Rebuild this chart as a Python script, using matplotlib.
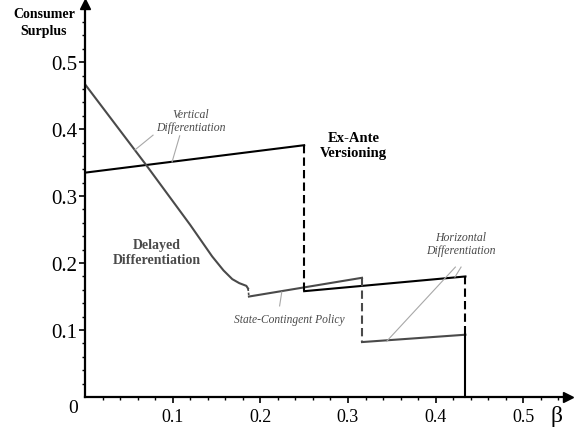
import matplotlib.pyplot as plt

plt.rcParams['font.family'] = ['Liberation Serif', 'DejaVu Serif']

# Ex-ante versioning (black)
beta_exante_1 = [0.0, 0.25]
cs_exante_1 = [0.335, 0.376]
beta_exante_2 = [0.25, 0.434]
cs_exante_2 = [0.158, 0.180]

# Delayed differentiation (gray curve)
beta_delayed = [0.0, 0.07, 0.12, 0.145, 0.158, 0.168, 0.176, 0.184, 0.186]
cs_delayed = [0.467, 0.346, 0.257, 0.210, 0.189, 0.176, 0.170, 0.166, 0.162]

# State-contingent policy
beta_contingent = [0.187, 0.316]
cs_contingent = [0.150, 0.178]

# Horizontal differentiation
beta_horizontal = [0.316, 0.434]
cs_horizontal = [0.082, 0.093]

x_ticks = [0.1, 0.2, 0.3, 0.4, 0.5]
y_ticks = [0.1, 0.2, 0.3, 0.4, 0.5]

negro = "black"
gris = "#4a4a4a"
gris_claro = "#a8a8a8"

fig = plt.figure(figsize=(5.76, 4.31), dpi=100)
ax = fig.add_axes([0.1476, 0.0766, 0.8385, 0.912])

# curvas
ax.plot(beta_exante_1, cs_exante_1, color=negro, lw=1.5)
ax.plot(beta_exante_2, cs_exante_2, color=negro, lw=1.5)
ax.plot(beta_delayed, cs_delayed, color=gris, lw=1.5)
ax.plot(beta_contingent, cs_contingent, color=gris, lw=1.5)
ax.plot(beta_horizontal, cs_horizontal, color=gris, lw=1.5)

# saltos
ax.plot([beta_exante_1[-1], beta_exante_2[0]], [cs_exante_1[-1], cs_exante_2[0]],
        color=negro, lw=1.5, ls=(0, (4, 2)))
ax.plot([beta_exante_2[-1], beta_horizontal[-1]], [cs_exante_2[-1], cs_horizontal[-1]],
        color=negro, lw=1.5, ls=(0, (4, 2)))
ax.plot([beta_horizontal[-1], beta_horizontal[-1]], [cs_horizontal[-1], 0],
        color=negro, lw=1.5, clip_on=False)
ax.plot([beta_contingent[-1], beta_horizontal[0]], [cs_contingent[-1], cs_horizontal[0]],
        color=gris, lw=1.5, ls=(0, (4, 2)))
ax.plot([beta_delayed[-1], beta_contingent[0]], [cs_delayed[-1], cs_contingent[0]],
        color=gris, lw=1.2, ls=(0, (1.5, 1)))

# lineas guia de las etiquetas
ax.plot([0.057, 0.0776], [0.369, 0.391], color=gris_claro, lw=0.8)
ax.plot([0.0993, 0.108], [0.351, 0.390], color=gris_claro, lw=0.8)
ax.plot([0.222, 0.2245], [0.136, 0.157], color=gris_claro, lw=0.8)
ax.plot([0.4225, 0.344], [0.194, 0.083], color=gris_claro, lw=0.8)
ax.plot([0.429, 0.422], [0.194, 0.179], color=gris_claro, lw=0.8)

# etiquetas
ax.text(0.121, 0.413, "Vertical\nDifferentiation", style="italic", color=gris,
        fontsize=8.5, ha="center", va="center", linespacing=1.15)
ax.text(0.306, 0.376, "Ex-Ante\nVersioning", weight="bold", color=negro,
        fontsize=10.5, ha="center", va="center", linespacing=1.15)
ax.text(0.082, 0.217, "Delayed\nDifferentiation", weight="bold", color=gris,
        fontsize=10, ha="center", va="center", linespacing=1.2)
ax.text(0.233, 0.116, "State-Contingent Policy", style="italic", color=gris,
        fontsize=8.3, ha="center", va="center")
ax.text(0.429, 0.229, "Horizontal\nDifferentiation", style="italic", color=gris,
        fontsize=8.5, ha="center", va="center", linespacing=1.15)

# ejes con flechas
ax.set_xlim(0, 0.551)
ax.set_ylim(0, 0.587)
ax.spines["top"].set_visible(False)
ax.spines["right"].set_visible(False)
ax.spines["left"].set_linewidth(1.6)
ax.spines["bottom"].set_linewidth(1.6)
ax.plot(1, 0, ">", color=negro, ms=7, transform=ax.transAxes, clip_on=False)
ax.plot(0, 1, "^", color=negro, ms=7, transform=ax.transAxes, clip_on=False)

ax.set_xticks(x_ticks)
ax.set_xticklabels([str(t) for t in x_ticks], fontsize=13)
ax.set_yticks(y_ticks)
ax.set_yticklabels([str(t) for t in y_ticks], fontsize=15)
ax.set_xticks([i * 0.02 for i in range(1, 28)], minor=True)
ax.set_yticks([i * 0.02 for i in range(1, 29)], minor=True)
ax.tick_params(which="major", length=4, width=1.2)
ax.tick_params(which="minor", length=2.5, width=1)
ax.tick_params(axis="x", which="major", pad=4)
ax.tick_params(axis="y", which="major", pad=1.5)

fig.text(73 / 576, 1 - 409 / 431, "0", fontsize=14, ha="center", va="center")
fig.text(557 / 576, 1 - 417 / 431, "β", fontsize=17, ha="center", va="center")
fig.text(44 / 576, 1 - 23 / 431, "Consumer\nSurplus", weight="bold", fontsize=10,
         ha="center", va="center", linespacing=1.35)

fig.savefig("out.png", dpi=100)
